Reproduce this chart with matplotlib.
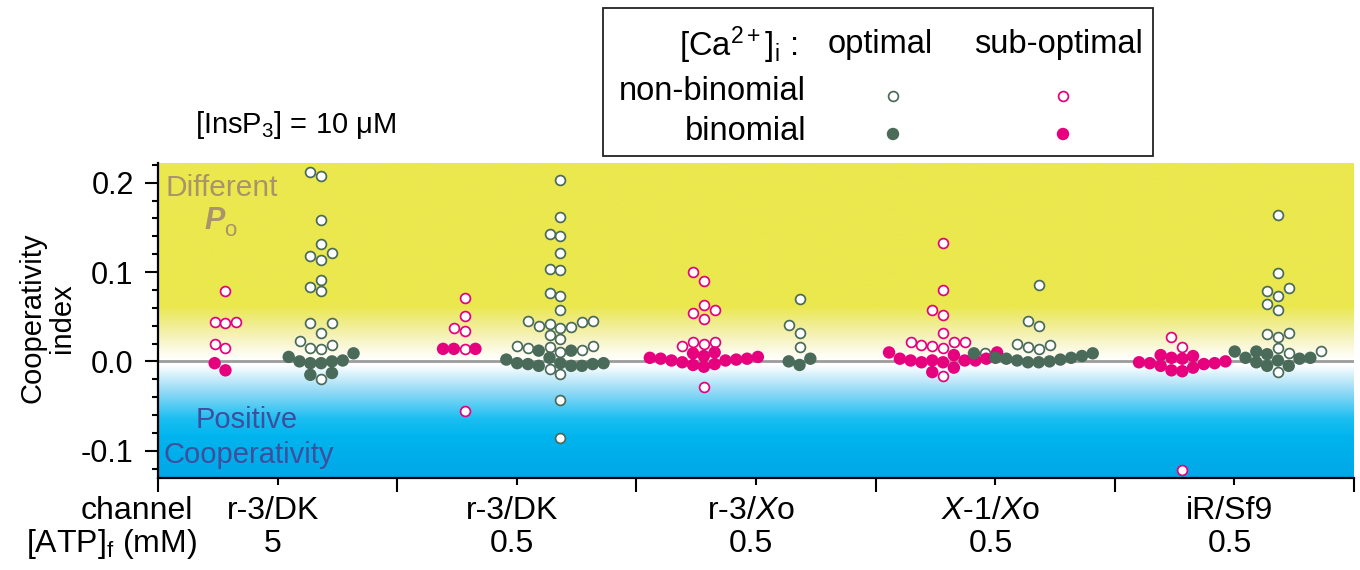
import numpy as np
import matplotlib
matplotlib.use('Agg')
import matplotlib.pyplot as plt
import matplotlib.transforms as mtransforms
from matplotlib.patches import Rectangle
from matplotlib.colors import to_rgb

plt.rcParams['font.family'] = ['Liberation Sans', 'DejaVu Sans']
plt.rcParams['mathtext.fontset'] = 'custom'
plt.rcParams['mathtext.rm'] = 'Liberation Sans'
plt.rcParams['mathtext.it'] = 'Liberation Sans:italic'
plt.rcParams['mathtext.bf'] = 'Liberation Sans:bold'

# ---------------- data ----------------
channels = ['r-3/DK', 'r-3/DK', 'r-3/$X$o', '$X$-1/$X$o', 'iR/Sf9']
atp = ['5', '0.5', '0.5', '0.5', '0.5']

# sub-optimal [Ca2+]i (pink)
sub_nonbin = [
    [0.079, 0.044, 0.043, 0.044, 0.019, 0.015],
    [0.071, 0.051, 0.037, 0.034, 0.014, -0.055],
    [0.100, 0.090, 0.063, 0.054, 0.057, 0.047, 0.022, 0.020, 0.017, 0.022, -0.029],
    [0.133, 0.080, 0.057, 0.052, 0.032, 0.022, 0.022, 0.018, 0.015, 0.017, 0.022, -0.016],
    [0.027, 0.016, -0.122],
]
sub_bin = [
    [-0.002, -0.010],
    [0.014, 0.014, 0.014],
    [0.003, 0.001, 0.009, -0.001, 0.005, -0.004, 0.003, -0.006, 0.006, -0.003, 0.010, 0.001, 0.002, 0.004],
    [0.001, 0.001, 0.010, -0.001, 0.003, 0.003, 0.007, -0.007, 0.010, -0.001, 0.001, 0.001, -0.012],
    [-0.001, -0.002, 0.007, -0.005, 0.004, -0.010, 0.003, -0.011, 0.006, -0.007, -0.003, -0.002, 0.000],
]
# optimal [Ca2+]i (green)
opt_nonbin = [
    [0.212, 0.208, 0.158, 0.131, 0.121, 0.118, 0.113, 0.091, 0.083, 0.079, 0.043, 0.043,
     0.032, 0.023, 0.015, 0.014, 0.018, -0.020],
    [0.203, 0.162, 0.143, 0.140, 0.121, 0.103, 0.102, 0.073, 0.076, 0.058, 0.044, 0.040,
     0.037, 0.045, 0.038, 0.042, 0.045, 0.030, 0.025, 0.017, 0.016, 0.013, 0.011, 0.015,
     0.017, -0.009, -0.014, -0.043, -0.086],
    [0.070, 0.041, 0.032, 0.016],
    [0.086, 0.045, 0.040, 0.019, 0.018, 0.014, 0.009, 0.016],
    [0.164, 0.099, 0.082, 0.079, 0.073, 0.064, 0.057, 0.032, 0.031, 0.027, 0.012, 0.009,
     0.015, -0.012],
]
opt_bin = [
    [0.009, 0.000, -0.002, 0.001, 0.000, 0.005, -0.002, -0.015, -0.013],
    [0.012, 0.012, 0.002, 0.004, -0.002, -0.003, -0.005, -0.002, -0.005, -0.005, -0.003, -0.002],
    [0.000, -0.004, 0.003],
    [0.004, 0.003, 0.001, 0.009, -0.001, 0.009, -0.001, 0.000, 0.002, 0.004, 0.006],
    [0.004, 0.003, -0.001, 0.011, -0.005, 0.011, -0.005, 0.001, 0.004, 0.008],
]

# ---------------- style ----------------
PINK = '#E6007E'
GREEN = '#4A6B5A'
YELLOW = '#EBE84E'
S_OPEN, LW_OPEN, S_FILL = 50, 1.25, 80

W, H = 1360, 570
fig = plt.figure(figsize=(W / 100, H / 100), dpi=100)
ax_l, ax_r, ax_t, ax_b = 158, 1354, 163, 478
ax = fig.add_axes([ax_l / W, 1 - ax_b / H, (ax_r - ax_l) / W, (ax_b - ax_t) / H])
YLO, YHI = -0.1305, 0.222
ax.set_xlim(0, 5)
ax.set_ylim(YLO, YHI)

# background gradient
yy = np.linspace(YLO, YHI, 800)
stops_v = [YLO, -0.085, -0.065, -0.035, -0.004, 0.000, 0.004, 0.025, 0.045, 0.062, YHI]
stops_c = [to_rgb('#00A7E6'), to_rgb('#00B4EE'), to_rgb('#19BEF1'), to_rgb('#8ED8F5'),
           (1, 1, 1), (1, 1, 1), (1, 1, 0.98), to_rgb('#F7F4C2'), to_rgb('#EFEC86'),
           to_rgb(YELLOW), to_rgb(YELLOW)]
stops_c = np.array(stops_c)
img = np.stack([np.interp(yy, stops_v, stops_c[:, k]) for k in range(3)], axis=1)
img = img[::-1][:, None, :]
ax.imshow(img, extent=[0, 5, YLO, YHI], aspect='auto', zorder=0, interpolation='bilinear')
ax.axhline(0, color='#9c9c9c', lw=2.0, zorder=1)

# swarm layout on a grid of marker slots
fig.canvas.draw()
p0 = ax.transData.transform((0, 0))
p1 = ax.transData.transform((1, 1))
xs_px, ys_px = p1[0] - p0[0], p1[1] - p0[1]
STEP = 10.8  # px


def swarm(vals):
    vals = np.asarray(vals, float)
    order = np.argsort(vals, kind='stable')
    cands = [0]
    for j in range(1, 40):
        cands += [-j, j]
    placed = []
    slots = np.zeros(len(vals))
    for i in order:
        ypx = vals[i] * ys_px
        for s in cands:
            if all(((s - ps) * STEP) ** 2 + (ypx - py) ** 2 >= (0.97 * STEP) ** 2 for ps, py in placed):
                break
        slots[i] = s
        placed.append((s, ypx))
    return slots * STEP / xs_px


def draw_column(center, open_vals, fill_vals, color):
    vals = list(open_vals) + list(fill_vals)
    off = swarm(vals)
    n = len(open_vals)
    xo = center + off[:n]
    xf = center + off[n:]
    ax.scatter(xo, open_vals, s=S_OPEN, facecolors='white', edgecolors=color,
               linewidths=LW_OPEN, zorder=4)
    ax.scatter(xf, fill_vals, s=S_FILL, color=color, edgecolors='none', zorder=5)


for g in range(5):
    c = g + 0.5
    draw_column(c - 0.218, sub_nonbin[g], sub_bin[g], PINK)
    draw_column(c + 0.182, opt_nonbin[g], opt_bin[g], GREEN)

# annotations inside the plot
ax.text(0.03, 0.194, 'Different', color='#A8946A', fontsize=21.5, ha='left', va='center', zorder=2)
ax.text(0.195, 0.157, 'P', color='#A8946A', fontsize=22, fontweight='bold', style='italic',
        ha='left', va='center', zorder=2)
ax.text(0.275, 0.146, 'o', color='#A8946A', fontsize=16, ha='left', va='center', zorder=2)
ax.text(0.37, -0.066, 'Positive', color='#3E4F9E', fontsize=21, ha='center', va='center', zorder=2)
ax.text(0.38, -0.105, 'Cooperativity', color='#3E4F9E', fontsize=21, ha='center', va='center', zorder=2)

# axes styling
for s in ['top', 'right']:
    ax.spines[s].set_visible(False)
for s in ['left', 'bottom']:
    ax.spines[s].set_linewidth(1.6)
    ax.spines[s].set_zorder(6)
ax.set_yticks([-0.1, 0.0, 0.1, 0.2])
ax.set_yticklabels(['-0.1', '0.0', '0.1', '0.2'])
ax.set_yticks(np.arange(-0.12, 0.2201, 0.02), minor=True)
ax.tick_params(axis='y', which='major', length=9.5, width=1.5, labelsize=22, pad=8)
ax.tick_params(axis='y', which='minor', length=4.5, width=1.5)
ax.set_xticks([0, 1, 2, 3, 4, 5])
ax.set_xticklabels([])
ax.set_xticks([0.5, 1.5, 2.5, 3.5, 4.5], minor=True)
ax.tick_params(axis='x', which='major', length=10, width=1.5)
ax.tick_params(axis='x', which='minor', length=5, width=1.5)

# category labels below the axis
tr = mtransforms.blended_transform_factory(ax.transData, fig.transFigure)
for g in range(5):
    ax.text(g + 0.48, 1 - 511 / H, channels[g], transform=tr, ha='center', va='center', fontsize=23)
    ax.text(g + 0.48, 1 - 544 / H, atp[g], transform=tr, ha='center', va='center', fontsize=23)

# overlay in pixel coordinates for the outer texts and legend
ov = fig.add_axes([0, 0, 1, 1], zorder=10)
ov.set_xlim(0, W)
ov.set_ylim(H, 0)
ov.axis('off')

ov.text(193, 511, 'channel', ha='right', va='center', fontsize=23)
ov.text(197, 544, '[ATP]$_\\mathrm{f}$ (mM)', ha='right', va='center', fontsize=23)
ov.text(47, 318, 'Cooperativity\nindex', rotation=90, ha='center', va='center',
        fontsize=21, linespacing=1.05, multialignment='center')
ov.text(195, 125, '[InsP$_3$] = 10 μM', ha='left', va='center', fontsize=21)

ov.add_patch(Rectangle((603, 8), 550, 148, fill=False, lw=1.3, ec='#222222'))
ov.text(797, 45, '[Ca$^{2+}$]$_\\mathrm{i}$ :', ha='right', va='center', fontsize=23.5)
ov.text(880, 45, 'optimal', ha='center', va='center', fontsize=23.5)
ov.text(1058, 45, 'sub-optimal', ha='center', va='center', fontsize=23.5)
ov.text(806, 92, 'non-binomial', ha='right', va='center', fontsize=23.5)
ov.text(806, 132, 'binomial', ha='right', va='center', fontsize=23.5)
ov.scatter([893], [96], s=S_OPEN, facecolors='white', edgecolors=GREEN, linewidths=LW_OPEN)
ov.scatter([1063], [96], s=S_OPEN, facecolors='white', edgecolors=PINK, linewidths=LW_OPEN)
ov.scatter([893], [134], s=S_FILL, color=GREEN, edgecolors='none')
ov.scatter([1063], [134], s=S_FILL, color=PINK, edgecolors='none')

fig.savefig('out.png', dpi=100)
